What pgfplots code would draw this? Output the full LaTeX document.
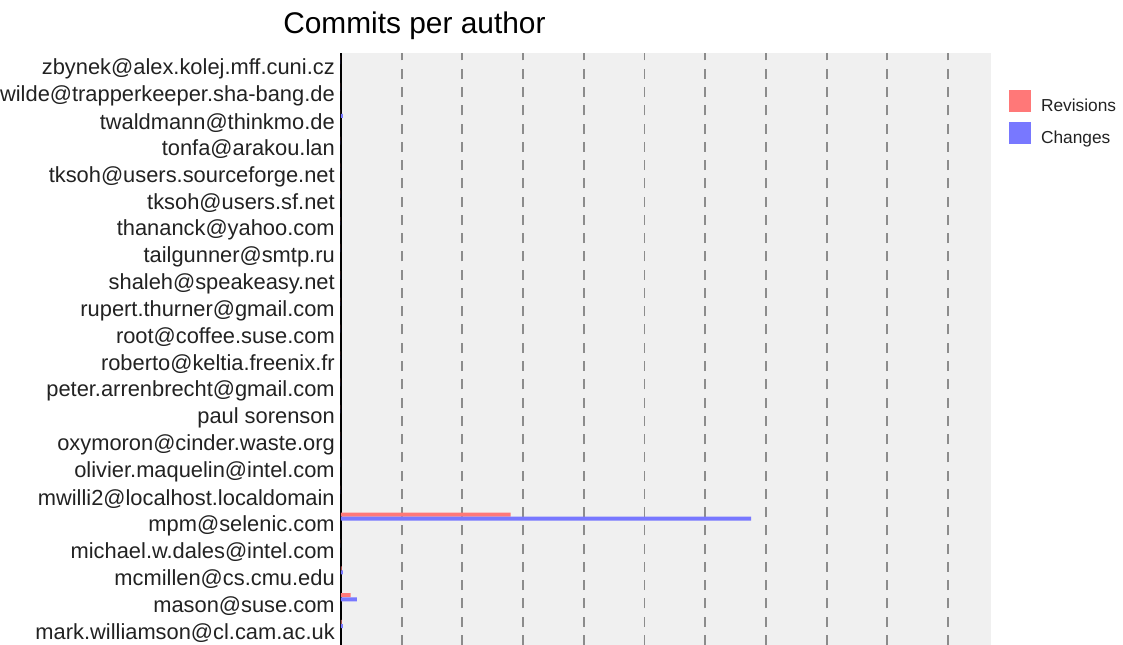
\documentclass[border=0pt]{standalone}
\usepackage{fontspec}
\setmainfont{Liberation Sans}
\usepackage{pgfplots}
\pgfplotsset{compat=1.18}
\usepackage{pgfplotstable}

\definecolor{revcol}{RGB}{255,120,120}
\definecolor{chgcol}{RGB}{120,120,255}
\definecolor{bggray}{RGB}{240,240,240}
\definecolor{gridgray}{RGB}{140,140,140}
\definecolor{txt}{RGB}{34,34,34}

% idx 0 = bottom row (mark.williamson), 21 = top row (zbynek)
\pgfplotstableread{
idx rev chg
0 1 3
1 16 26
2 1 3
3 0 0
4 279.6 675.5
5 0 0
6 0 0
7 0 0
8 0 0
9 0 0
10 0 0
11 0 0
12 0 0
13 0 0
14 0 0
15 0 0
16 0 0
17 0 0
18 0 0
19 0 3
20 0 0
21 0 0
}\commits

\begin{document}
\begin{tikzpicture}
\begin{axis}[
    at={(0,0)}, anchor=south west,
    scale only axis, width=487.5pt, height=444pt,
    xbar, bar width=0.149,
    xmin=0, xmax=1070.8, ymin=-0.447, ymax=21.596,
    axis lines*=left,
    x axis line style={draw=none},
    y axis line style={line width=1.1pt, black},
    axis background/.style={fill=bggray},
    xtick={100,200,...,1000}, xticklabels={}, xmajorgrids,
    major grid style={gridgray, line width=1.4pt, dash pattern=on 7.5pt off 6.2pt},
    major tick length=0pt,
    ytick={0,...,21},
    yticklabels={mark.williamson@cl.cam.ac.uk, mason@suse.com, mcmillen@cs.cmu.edu,
        michael.w.dales@intel.com, mpm@selenic.com, mwilli2@localhost.localdomain,
        olivier.maquelin@intel.com, oxymoron@cinder.waste.org, paul sorenson,
        peter.arrenbrecht@gmail.com, roberto@keltia.freenix.fr, root@coffee.suse.com,
        rupert.thurner@gmail.com, shaleh@speakeasy.net, tailgunner@smtp.ru,
        thananck@yahoo.com, tksoh@users.sf.net, tksoh@users.sourceforge.net,
        tonfa@arakou.lan, twaldmann@thinkmo.de, wilde@trapperkeeper.sha-bang.de,
        zbynek@alex.kolej.mff.cuni.cz},
    yticklabel style={font=\fontsize{16.4}{19}\selectfont, text=txt, inner sep=0pt, xshift=-4.5pt},
    title=Commits per author,
    title style={font=\fontsize{22.4}{26}\selectfont, anchor=base west, inner sep=0pt, at={(-0.0892,1.0195)}},
    legend style={at={(1.0277,0.9375)}, anchor=north west, draw=none, fill=none,
        inner sep=0pt, outer sep=0pt, font=\fontsize{13}{15}\selectfont, text=txt,
        row sep=6.75pt, column sep=7.5pt, nodes={inner sep=0pt, anchor=base west}},
    legend cell align=left,
]
\addplot[draw=none, fill=revcol, bar shift=0.41,
    legend image code/.code={\fill[revcol] (0pt,-0.5pt) rectangle (16.5pt,16pt);}]
    table[x=rev, y=idx] {\commits};
\addplot[draw=none, fill=chgcol, bar shift=0.255,
    legend image code/.code={\fill[chgcol] (0pt,-0.5pt) rectangle (16.5pt,16pt);}]
    table[x=chg, y=idx] {\commits};
\legend{Revisions, Changes}
\end{axis}
\pgfresetboundingbox
\path (-255.75pt,0pt) rectangle (586.5pt,483.75pt);
\end{tikzpicture}
\end{document}
